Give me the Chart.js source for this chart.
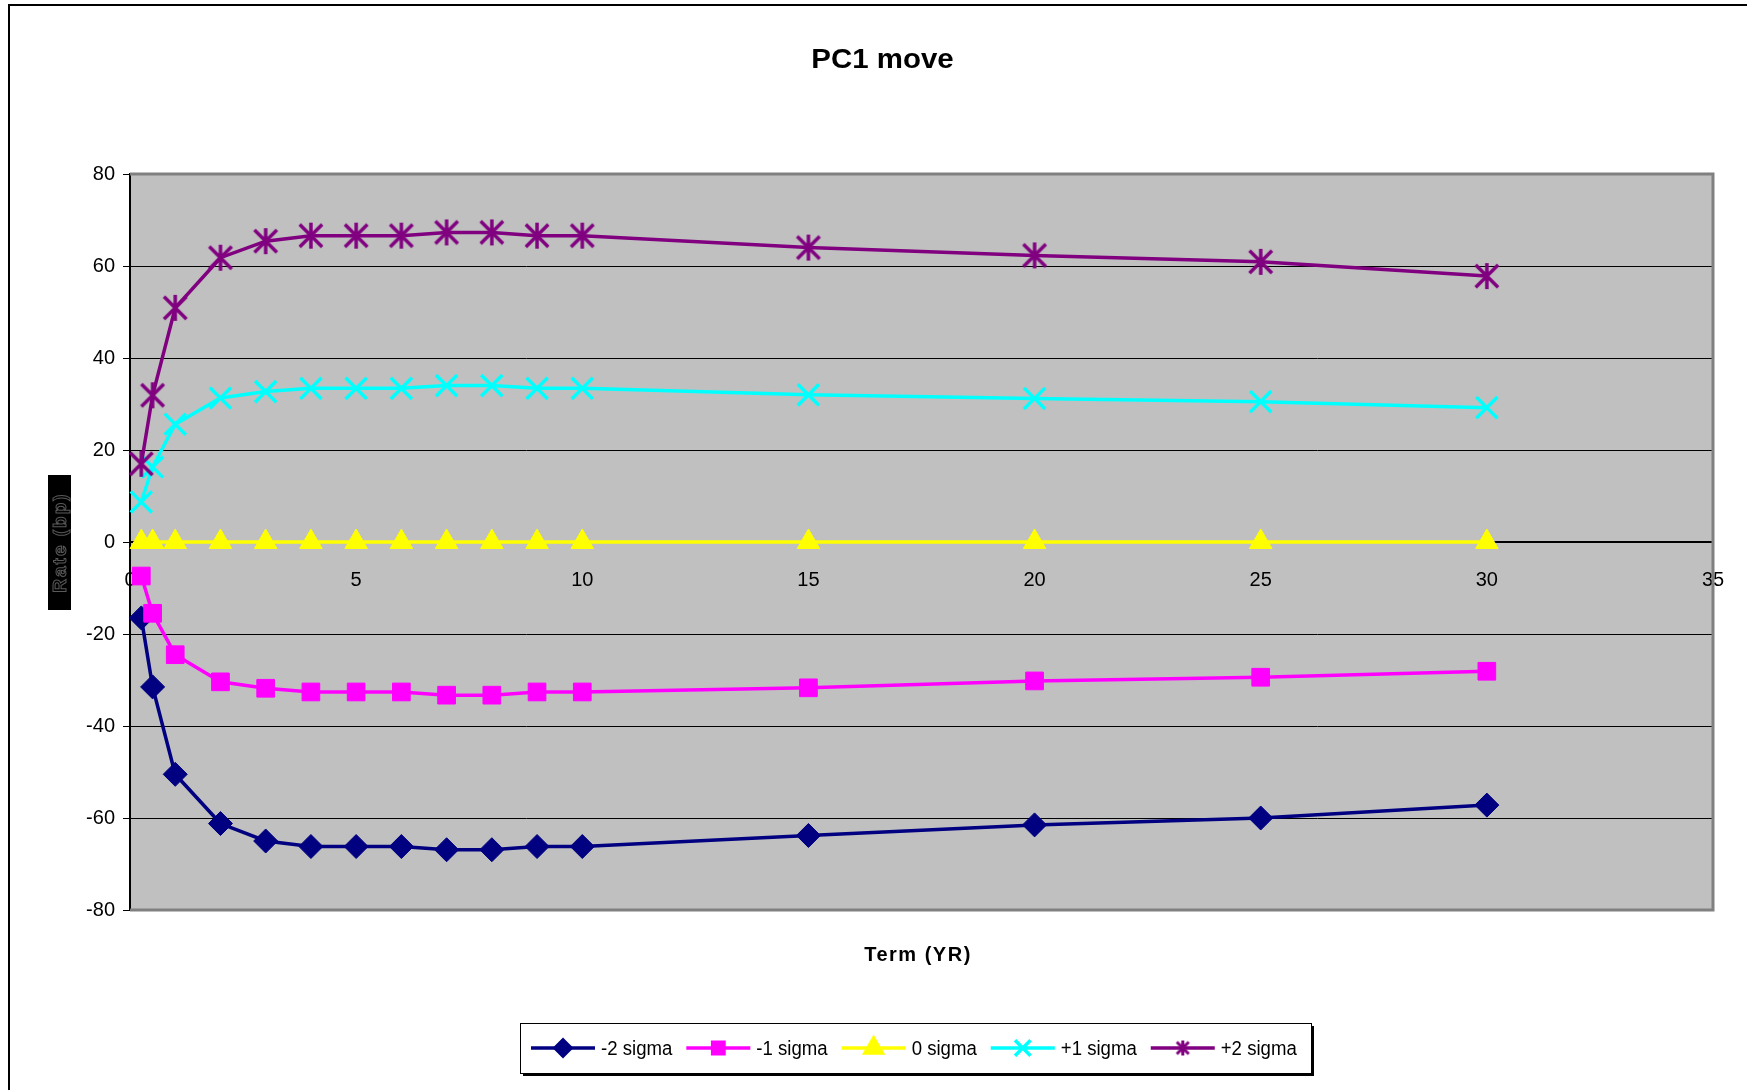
<!DOCTYPE html>
<html>
<head>
<meta charset="utf-8">
<title>PC1 move</title>
<script src="https://cdn.jsdelivr.net/npm/chart.js@4.4.0/dist/chart.umd.min.js"></script>
<style>
  html, body { margin: 0; padding: 0; background: #fff; }
  canvas { display: block; }
</style>
</head>
<body>
<canvas id="pcChart" width="1747" height="1090"></canvas>
<script>
// term points (years)
const terms = [0.25, 0.5, 1, 2, 3, 4, 5, 6, 7, 8, 9, 10, 15, 20, 25, 30];

const minus2 = [-16.5, -31.5, -50.5, -61.2, -65, -66.2, -66.2, -66.2, -66.9, -66.9, -66.2, -66.2, -63.8, -61.5, -60, -57.2];
const minus1 = [-7.4, -15.5, -24.5, -30.4, -31.8, -32.6, -32.6, -32.6, -33.3, -33.3, -32.6, -32.6, -31.7, -30.2, -29.4, -28.1];
const zero   = [0, 0, 0, 0, 0, 0, 0, 0, 0, 0, 0, 0, 0, 0, 0, 0];
const plus1  = [8.7, 16.3, 25.6, 31.3, 32.7, 33.4, 33.4, 33.4, 34, 34, 33.4, 33.4, 32, 31.2, 30.5, 29.2];
const plus2  = [17, 31.9, 50.9, 61.8, 65.4, 66.6, 66.6, 66.6, 67.3, 67.3, 66.6, 66.6, 64, 62.3, 60.9, 57.8];

const seriesNames = ['-2 sigma', '-1 sigma', '0 sigma', '+1 sigma', '+2 sigma'];
const yTicks = [-80, -60, -40, -20, 0, 20, 40, 60, 80];
const xTicks = [0, 5, 10, 15, 20, 25, 30, 35];

const FONT = '"Liberation Sans", Arial, sans-serif';

// asterisk marker (x with a vertical bar)
function makeAsterisk(size, lw, color) {
    const c = document.createElement('canvas');
    c.width = size; c.height = size;
    const g = c.getContext('2d');
    const p = lw / 2 + 1;
    g.strokeStyle = color;
    g.lineWidth = lw;
    g.beginPath();
    g.moveTo(p, p); g.lineTo(size - p, size - p);
    g.moveTo(size - p, p); g.lineTo(p, size - p);
    g.moveTo(size / 2, 1); g.lineTo(size / 2, size - 1);
    g.stroke();
    return c;
}

const starBig = makeAsterisk(28, 3.5, '#800080');
const starSmall = makeAsterisk(17, 3, '#800080');

function pts(ys) {
    return terms.map((t, i) => ({ x: t, y: ys[i] }));
}

const styles = [
    { color: '#000080', point: 'rectRot', radius: 12, bw: 1, legendR: 8 },
    { color: '#FF00FF', point: 'rect', radius: 12.5, bw: 1, legendR: 8 },
    { color: '#FFFF00', point: 'triangle', radius: 13, bw: 1, legendR: 10 },
    { color: '#00FFFF', point: 'crossRot', radius: 15, bw: 3.5, legendR: 11 },
    { color: '#800080', point: starBig, radius: 14, bw: 1, legendR: 9 }
];

const allSeries = [minus2, minus1, zero, plus1, plus2];

const datasets = allSeries.map((ys, i) => ({
    label: seriesNames[i],
    data: pts(ys),
    borderColor: styles[i].color,
    backgroundColor: styles[i].color,
    borderWidth: 3.5,
    pointStyle: styles[i].point,
    pointRadius: styles[i].radius,
    pointBorderWidth: styles[i].bw,
    pointBackgroundColor: styles[i].color,
    pointBorderColor: styles[i].color,
    tension: 0,
    clip: false,
    order: 5 - i
}));

const decorPlugin = {
    id: 'decor',
    beforeDraw(chart) {
        const { ctx, chartArea: a } = chart;
        ctx.save();
        ctx.fillStyle = '#fff';
        ctx.fillRect(0, 0, chart.width, chart.height);
        ctx.fillStyle = '#C0C0C0';
        ctx.fillRect(a.left, a.top, a.right - a.left, a.bottom - a.top);
        ctx.restore();
    },
    beforeDatasetsDraw(chart) {
        const { ctx, chartArea: a } = chart;
        ctx.save();
        ctx.strokeStyle = '#808080';
        ctx.lineWidth = 3;
        ctx.beginPath();
        ctx.moveTo(a.left, a.top);
        ctx.lineTo(a.right, a.top);
        ctx.lineTo(a.right, a.bottom);
        ctx.lineTo(a.left, a.bottom);
        ctx.stroke();
        ctx.restore();
    },
    afterDraw(chart) {
        const ctx = chart.ctx;
        ctx.save();

        // outer frame
        ctx.strokeStyle = '#000';
        ctx.lineWidth = 2;
        ctx.beginPath();
        ctx.moveTo(1747, 5);
        ctx.lineTo(9, 5);
        ctx.lineTo(9, 1090);
        ctx.stroke();

        // title
        ctx.fillStyle = '#000';
        ctx.font = 'bold 27px ' + FONT;
        ctx.textAlign = 'center';
        ctx.textBaseline = 'alphabetic';
        ctx.save();
        ctx.translate(882.5, 67.5);
        ctx.scale(1.09, 1);
        ctx.fillText('PC1 move', 0, 0);
        ctx.restore();

        // x axis title
        ctx.font = 'bold 20px ' + FONT;
        ctx.letterSpacing = '1.5px';
        ctx.fillText('Term (YR)', 918, 961);
        ctx.letterSpacing = '0px';

        // y axis title in black box
        ctx.fillStyle = '#000';
        ctx.fillRect(48, 475, 23, 135);
        ctx.save();
        ctx.translate(60, 542.5);
        ctx.rotate(-Math.PI / 2);
        ctx.font = 'bold 19px ' + FONT;
        ctx.letterSpacing = '2px';
        ctx.textBaseline = 'middle';
        ctx.strokeStyle = '#5a5a5a';
        ctx.lineWidth = 1;
        ctx.strokeText('Rate (bp)', 0, 1);
        ctx.restore();

        // legend
        const bx = 520, by = 1023, bw = 791, bh = 50;
        ctx.fillStyle = '#000';
        ctx.fillRect(bx + 3, by + 3, bw, bh);
        ctx.fillStyle = '#fff';
        ctx.fillRect(bx, by, bw, bh);
        ctx.strokeStyle = '#000';
        ctx.lineWidth = 1;
        ctx.strokeRect(bx + 0.5, by + 0.5, bw, bh);

        ctx.font = '20px ' + FONT;
        ctx.textAlign = 'left';
        ctx.textBaseline = 'middle';
        const cy = by + bh / 2;
        const squeeze = 0.93;
        let x = 531;
        chart.data.datasets.forEach((ds, i) => {
            const st = styles[i];
            ctx.strokeStyle = st.color;
            ctx.lineWidth = 3.5;
            ctx.beginPath();
            ctx.moveTo(x, cy);
            ctx.lineTo(x + 64, cy);
            ctx.stroke();
            ctx.fillStyle = st.color;
            const ps = (i === 4) ? starSmall : st.point;
            Chart.helpers.drawPoint(ctx, {
                pointStyle: ps,
                radius: st.legendR,
                rotation: 0,
                borderWidth: i === 3 ? 3 : 1
            }, x + 32, cy);
            ctx.fillStyle = '#000';
            ctx.save();
            ctx.translate(x + 70, cy + 1);
            ctx.scale(squeeze, 1);
            ctx.fillText(ds.label, 0, 0);
            ctx.restore();
            x += 70 + ctx.measureText(ds.label).width * squeeze + 14;
        });

        ctx.restore();
    }
};

const chart = new Chart(document.getElementById('pcChart').getContext('2d'), {
    type: 'line',
    data: { datasets: datasets },
    options: {
        responsive: false,
        animation: false,
        devicePixelRatio: 1,
        layout: { padding: { left: 0, top: 174, right: 34, bottom: 180 } },
        scales: {
            x: {
                type: 'linear',
                position: { y: 0 },
                min: 0,
                max: 35,
                afterBuildTicks: (scale) => { scale.ticks = xTicks.map(v => ({ value: v })); },
                ticks: {
                    color: '#000',
                    font: { family: FONT, size: 20 },
                    padding: 20,
                    maxRotation: 0
                },
                grid: {
                    drawOnChartArea: false,
                    tickLength: 6,
                    tickColor: '#000'
                },
                border: { color: '#000', width: 2 }
            },
            y: {
                min: -80,
                max: 80,
                afterBuildTicks: (scale) => { scale.ticks = yTicks.map(v => ({ value: v })); },
                afterFit: (scale) => { scale.width = 130; },
                ticks: {
                    color: '#000',
                    font: { family: FONT, size: 20 },
                    padding: 8
                },
                grid: {
                    color: (c) => (c.tick && Math.abs(c.tick.value) === 80) ? 'rgba(0,0,0,0)' : '#000',
                    lineWidth: 1,
                    tickLength: 7,
                    tickColor: '#000'
                },
                border: { color: '#000', width: 2 }
            }
        },
        plugins: {
            legend: { display: false },
            title: { display: false },
            tooltip: { enabled: false }
        }
    },
    plugins: [decorPlugin]
});
</script>
</body>
</html>
